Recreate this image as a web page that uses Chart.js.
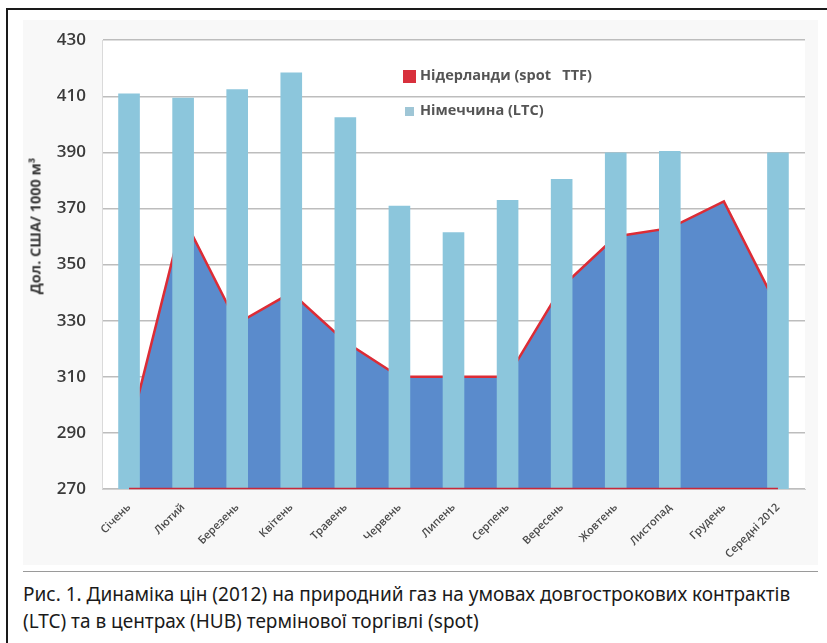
<!DOCTYPE html>
<html>
<head>
<meta charset="utf-8">
<script src="https://cdn.jsdelivr.net/npm/chart.js@4/dist/chart.umd.min.js"></script>
<style>
  body { margin: 0; background: #fff; width: 827px; height: 643px; overflow: hidden; position: relative; font-family: 'Open Sans', sans-serif; }
  #frame { position: absolute; left: 6px; top: 8px; width: 900px; height: 700px; border-left: 2px solid #1a1a1a; border-top: 2px solid #1a1a1a; }
  #chartBg { position: absolute; left: 23px; top: 20px; width: 795px; height: 545px; background: #f8f8f8; }
  #chartBox { position: absolute; left: 23px; top: 14px; width: 795px; height: 551px; }
  #sep { position: absolute; left: 23px; top: 571px; width: 795px; height: 0; border-top: 1px solid #9a9a9a; }
  #caption { position: absolute; left: 23px; top: 581px; font-family: 'Noto Sans', sans-serif; font-size: 19px; line-height: 27px; color: #1a1a1a; white-space: nowrap; }
  #ytitle { position: absolute; left: 35px; top: 226px; transform: translate(-50%, -50%) rotate(-90deg); font-size: 14.5px; font-weight: 700; color: #3a3a3a; white-space: nowrap; }
  .leg { position: absolute; left: 403px; font-size: 14.5px; font-weight: 700; color: #555; white-space: nowrap; }
  .sw { display: inline-block; vertical-align: middle; margin-right: 4px; }
</style>
</head>
<body>
<div id="frame"></div>
<div id="chartBg"></div>
<div id="chartBox"><canvas id="gasChart" width="795" height="551"></canvas></div>
<div id="ytitle">Дол. США/ 1000 м³</div>
<div class="leg" style="top:65px"><span class="sw" style="width:13px;height:13px;background:#d8303c;"></span>Нідерланди (spot&nbsp;&nbsp;&nbsp;TTF)</div>
<div class="leg" style="top:100px"><span class="sw" style="width:9px;height:9px;margin:0 6px 0 2px;background:#9fc6d6;"></span>Німеччина (LTC)</div>
<div id="sep"></div>
<div id="caption">Рис. 1. Динаміка цін (2012) на природний газ на умовах довгострокових контрактів<br>(LTC) та в центрах (HUB) термінової торгівлі (spot)</div>
<script>
// Categories and values
const months = ['Січень', 'Лютий', 'Березень', 'Квітень', 'Травень', 'Червень', 'Липень',
  'Серпень', 'Вересень', 'Жовтень', 'Листопад', 'Грудень', 'Середні 2012'];
const germanyLTC = [411, 409.5, 412.5, 418.5, 402.5, 371, 361.5, 373, 380.5, 390, 390.5, null, 390];
const netherlandsTTF = [290, 367, 329, 340, 322.5, 310, 310, 310, 342, 360, 363, 372.5, 334.5];
const yMin = 270;
const yMax = 430;
const yStep = 20;

Chart.defaults.font.family = "'Open Sans', sans-serif";

// White plot area and the red bottom edge of the area series
const plotDecor = {
  id: 'plotDecor',
  beforeDraw(chart) {
    const { ctx, chartArea } = chart;
    ctx.save();
    ctx.fillStyle = '#ffffff';
    ctx.fillRect(chartArea.left, chartArea.top, chartArea.right - chartArea.left, chartArea.bottom - chartArea.top);
    ctx.restore();
  },
  afterDatasetsDraw(chart) {
    const pts = chart.getDatasetMeta(1).data;
    if (!pts.length) return;
    const y = chart.scales.y.getPixelForValue(yMin);
    const ctx = chart.ctx;
    ctx.save();
    ctx.strokeStyle = '#c8283a';
    ctx.lineWidth = 1.5;
    ctx.beginPath();
    ctx.moveTo(pts[0].x, y - 0.5);
    ctx.lineTo(pts[pts.length - 1].x, y - 0.5);
    ctx.stroke();
    ctx.restore();
  }
};

new Chart(document.getElementById('gasChart').getContext('2d'), {
  type: 'bar',
  data: {
    labels: months,
    datasets: [
      {
        label: 'Німеччина (LTC)',
        data: germanyLTC,
        backgroundColor: '#8cc6dc',
        barPercentage: 0.4,
        categoryPercentage: 1.0,
        order: 0
      },
      {
        type: 'line',
        label: 'Нідерланди (spot  TTF)',
        data: netherlandsTTF,
        borderColor: '#dc2c36',
        backgroundColor: '#5a8bcc',
        borderWidth: 2.5,
        fill: 'start',
        tension: 0,
        pointRadius: 0,
        order: 1
      }
    ]
  },
  options: {
    responsive: false,
    animation: false,
    layout: { padding: { top: 13, right: 13, left: 0, bottom: 0 } },
    plugins: {
      legend: { display: false },
      tooltip: { enabled: false }
    },
    scales: {
      y: {
        min: yMin,
        max: yMax,
        afterFit(scale) { scale.width = 79; },
        ticks: {
          stepSize: yStep,
          padding: 16,
          color: '#3a3a3a',
          font: { size: 17, weight: '600' }
        },
        grid: { color: '#bdbdbd', lineWidth: 1.5, drawTicks: false },
        border: { display: true, color: '#dadada', width: 1 }
      },
      x: {
        afterFit(scale) { scale.height = 76; },
        ticks: {
          minRotation: 45,
          maxRotation: 45,
          autoSkip: false,
          padding: 4,
          color: '#4a4a4a',
          font: { size: 11, weight: '600' }
        },
        grid: { display: false },
        border: { display: true, color: '#cfcfcf', width: 1 }
      }
    }
  },
  plugins: [plotDecor]
});
</script>
</body>
</html>
